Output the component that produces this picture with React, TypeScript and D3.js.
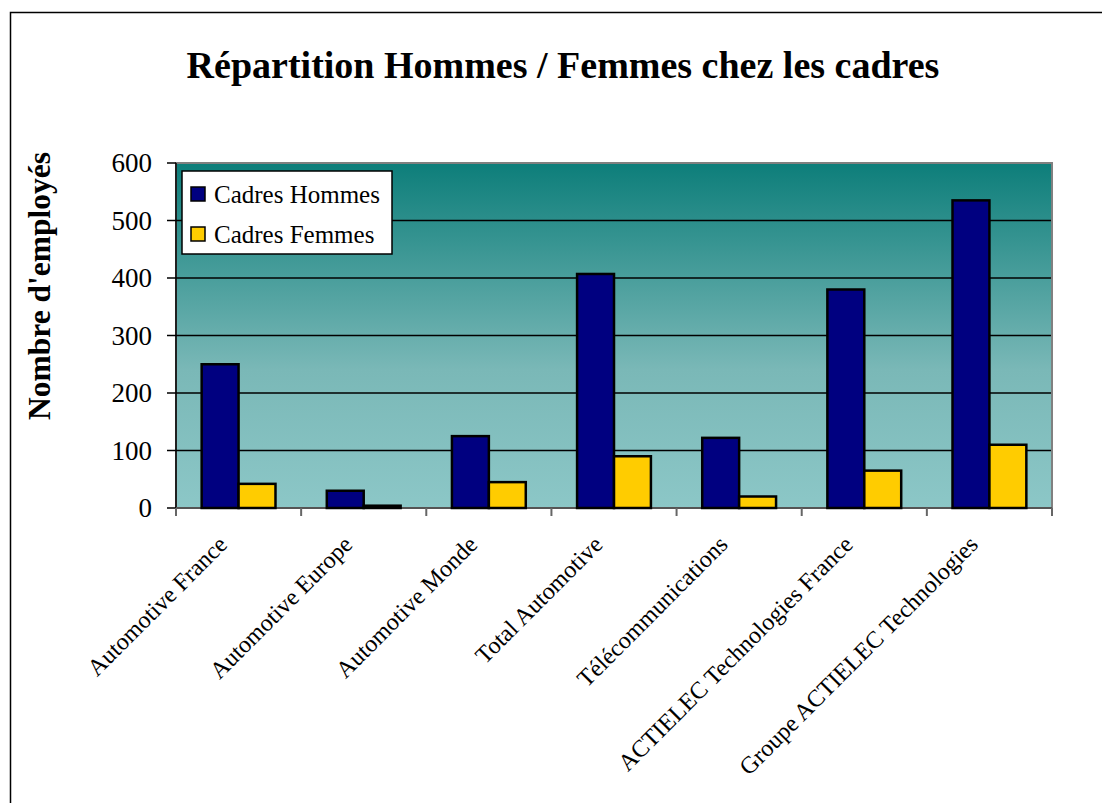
import React from 'react';
import * as d3 from 'd3';

const categories = [
  'Automotive France',
  'Automotive Europe',
  'Automotive Monde',
  'Total Automotive',
  'Télécommunications',
  'ACTIELEC Technologies France',
  'Groupe ACTIELEC Technologies',
];
const hommes = [250, 30, 125, 407, 122, 380, 535];
const femmes = [42, 4, 45, 90, 20, 65, 110];
const seriesNames = ['Cadres Hommes', 'Cadres Femmes'];
const seriesColors = ['#000080', '#FFCC00'];
const yTicks = [0, 100, 200, 300, 400, 500, 600];

const W = 1102;
const H = 803;
const plot = {left: 176, right: 1052, top: 163, bottom: 508};
const font = '"Liberation Serif", "Times New Roman", serif';

const App = () => {
  const x = d3
    .scaleBand<string>()
    .domain(categories)
    .range([plot.left, plot.right])
    .paddingInner(0.41)
    .paddingOuter(0.205);
  const sub = d3
    .scaleBand<string>()
    .domain(seriesNames)
    .range([0, x.bandwidth()]);
  const y = d3.scaleLinear().domain([0, 600]).range([plot.bottom, plot.top]);
  const step = (plot.right - plot.left) / categories.length;
  const values = [hommes, femmes];

  return (
    <div style={{position: 'absolute', left: 0, top: 0}}>
      <svg width={W} height={H} style={{display: 'block', fontFamily: font}}>
        <defs>
          <linearGradient id="bg" x1="0" y1="0" x2="0" y2="1">
            <stop offset="0%" stopColor="#0d7e7a" />
            <stop offset="60%" stopColor="#7ab8b7" />
            <stop offset="100%" stopColor="#8cc7c7" />
          </linearGradient>
        </defs>
        <rect width={W} height={H} fill="#fff" />
        <path
          d={`M10.5,${H + 5} V12.5 H${W + 5}`}
          fill="none"
          stroke="#000"
          strokeWidth={1.5}
        />
        <text
          x={563}
          y={78}
          textAnchor="middle"
          fontSize={38}
          fontWeight="bold">
          Répartition Hommes / Femmes chez les cadres
        </text>

        <rect
          x={plot.left}
          y={plot.top}
          width={plot.right - plot.left}
          height={plot.bottom - plot.top}
          fill="url(#bg)"
          stroke="#808080"
          strokeWidth={2}
        />
        {yTicks.slice(1, -1).map(t => (
          <line
            key={t}
            x1={plot.left}
            x2={plot.right - 1}
            y1={y(t)}
            y2={y(t)}
            stroke="#000"
            strokeWidth={1.5}
          />
        ))}
        {yTicks.map(t => (
          <g key={t}>
            <line
              x1={plot.left - 9}
              x2={plot.left}
              y1={y(t)}
              y2={y(t)}
              stroke="#000"
              strokeWidth={1.5}
            />
            <text
              x={152}
              y={y(t)}
              dy="0.35em"
              textAnchor="end"
              fontSize={27}>
              {t}
            </text>
          </g>
        ))}
        <line
          x1={plot.left}
          x2={plot.left}
          y1={plot.top}
          y2={plot.bottom}
          stroke="#000"
          strokeWidth={1.5}
        />
        <line
          x1={plot.left}
          x2={plot.right}
          y1={plot.bottom}
          y2={plot.bottom}
          stroke="#555"
          strokeWidth={2}
        />
        {d3.range(categories.length + 1).map(i => (
          <line
            key={i}
            x1={plot.left + i * step}
            x2={plot.left + i * step}
            y1={plot.bottom}
            y2={plot.bottom + 8}
            stroke="#666"
            strokeWidth={2}
          />
        ))}

        {categories.map((c, i) => (
          <g key={c} transform={`translate(${x(c)},0)`}>
            {seriesNames.map((s, j) => (
              <rect
                key={s}
                x={sub(s)}
                y={y(values[j][i])}
                width={sub.bandwidth()}
                height={y(0) - y(values[j][i])}
                fill={seriesColors[j]}
                stroke="#000"
                strokeWidth={2.5}
              />
            ))}
          </g>
        ))}

        {categories.map(c => {
          const cx = (x(c) as number) + x.bandwidth() / 2;
          return (
            <text
              key={c}
              transform={`translate(${cx - 10},${plot.bottom + 38}) rotate(-45)`}
              textAnchor="end"
              fontSize={24}>
              {c}
            </text>
          );
        })}

        <text
          transform="translate(50,286) rotate(-90)"
          textAnchor="middle"
          fontSize={31.5}
          fontWeight="bold">
          Nombre d'employés
        </text>

        <g transform="translate(182,171)">
          <rect width={210} height={83} fill="#fff" stroke="#000" strokeWidth={1.5} />
          {seriesNames.map((s, j) => (
            <g key={s} transform={`translate(9,${16 + j * 40})`}>
              <rect
                width={14}
                height={14}
                fill={seriesColors[j]}
                stroke="#000"
                strokeWidth={1.5}
              />
              <text x={23} y={7} dy="0.35em" fontSize={25}>
                {s}
              </text>
            </g>
          ))}
        </g>
      </svg>
    </div>
  );
};

export default App;
